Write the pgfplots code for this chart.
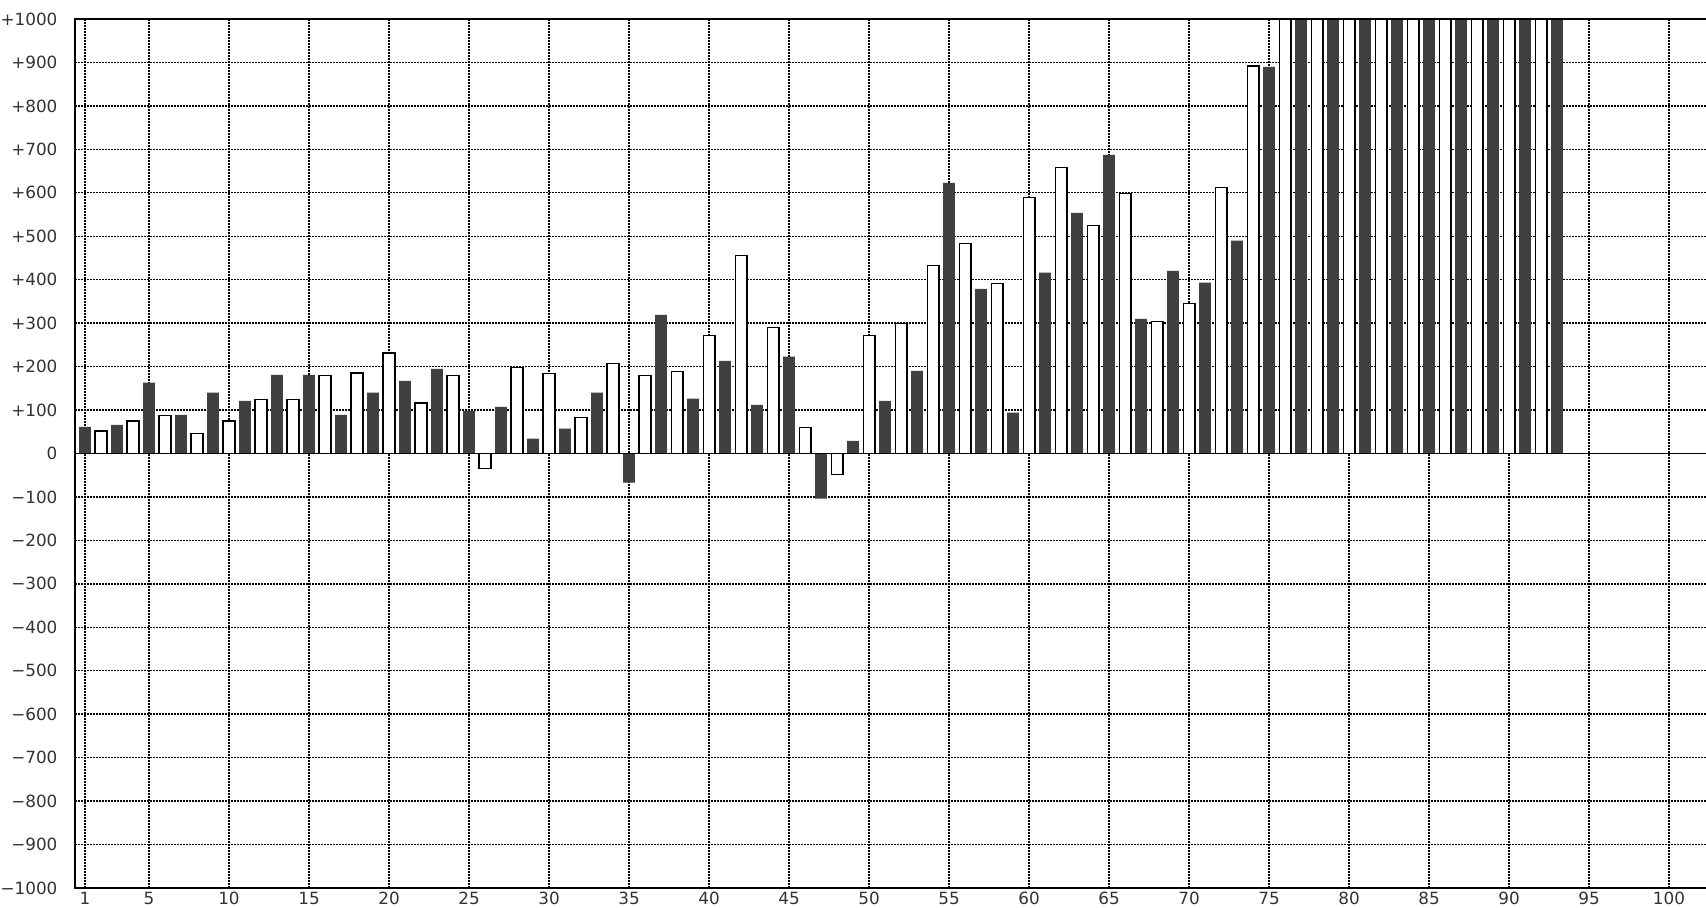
\documentclass[border=0pt]{standalone}
\usepackage{fontspec}
\setmainfont{DejaVu Sans}
\usepackage{pgfplots}
\pgfplotsset{compat=1.18}
\definecolor{darkbar}{RGB}{64,64,64}
\begin{document}
\begin{tikzpicture}
\path[use as bounding box] (-37.5pt,-10pt) rectangle (815.5pt,444pt);
\clip (-37.5pt,-10pt) rectangle (815.5pt,444pt);
\begin{axis}[
  at={(0pt,0pt)}, anchor=south west,
  scale only axis, width=817pt, height=434.5pt,
  xmin=0.375, xmax=102.5, ymin=-1000, ymax=1000,
  axis line style={black, line width=0.67pt},
  major tick length=0pt,
  xtick={1,5,10,15,20,25,30,35,40,45,50,55,60,65,70,75,80,85,90,95,100},
  xticklabels={1,5,10,15,20,25,30,35,40,45,50,55,60,65,70,75,80,85,90,95,100},
  ytick={-1000,-900,-800,-700,-600,-500,-400,-300,-200,-100,0,100,200,300,400,500,600,700,800,900,1000},
  yticklabels={−1000,−900,−800,−700,−600,−500,−400,−300,−200,−100,0,+100,+200,+300,+400,+500,+600,+700,+800,+900,+1000},
  xtick pos=bottom, ytick pos=left,
  grid=major,
  major grid style={black, line width=0.7pt, dash pattern=on 0.75pt off 0.75pt},
  yticklabel style={font=\fontsize{8.4}{10}\selectfont, anchor=east, inner sep=0pt, xshift=-8.6pt, text=black!80},
  xticklabel style={font=\fontsize{8.4}{10}\selectfont, anchor=north, inner sep=0pt, yshift=-2pt, text=black!80},
]
\addplot[ybar, bar width=0.73, bar shift=0pt, fill=darkbar, draw=none] coordinates {
(1,61) (3,66) (5,163) (7,89) (9,140) (11,121) (13,181) (15,181) (17,89) (19,140)
(21,167) (23,195) (25,98) (27,107) (29,34) (31,57) (33,140) (35,-67) (37,319) (39,126)
(41,213) (43,112) (45,223) (47,-104) (49,29) (51,121) (53,190) (55,623) (57,379) (59,94)
(61,416) (63,554) (65,687) (67,310) (69,420) (71,393) (73,490) (75,890) (77,1100) (79,1100)
(81,1100) (83,1100) (85,1100) (87,1100) (89,1100) (91,1100) (93,1100)
};
\addplot[ybar, bar width=0.73, bar shift=0pt, fill=white, draw=black, line width=0.67pt] coordinates {
(2,52) (4,75) (6,88) (8,46) (10,75) (12,125) (14,125) (16,180) (18,185) (20,231)
(22,116) (24,180) (26,-34) (28,198) (30,184) (32,83) (34,207) (36,180) (38,189) (40,272)
(42,456) (44,290) (46,60) (48,-48) (50,272) (52,299) (54,433) (56,483) (58,391) (60,589)
(62,658) (64,525) (66,598) (68,304) (70,345) (72,612) (74,892) (76,1100) (78,1100) (80,1100)
(82,1100) (84,1100) (86,1100) (88,1100) (90,1100) (92,1100)
};
\addplot[sharp plot, black, line width=0.67pt, mark=none, forget plot] coordinates {(0,0) (103,0)};
\end{axis}
\draw[black, line width=0.67pt] (0pt,434.5pt) -- (817pt,434.5pt);
\end{tikzpicture}
\end{document}
